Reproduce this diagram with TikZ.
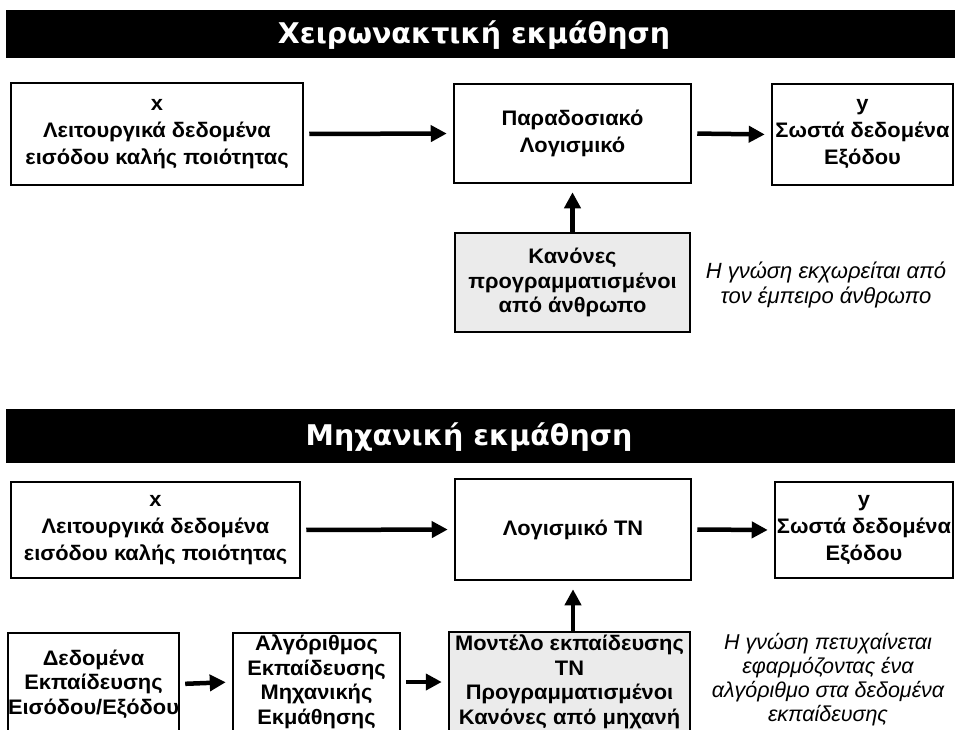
\documentclass[tikz,border=0pt]{standalone}
\usepackage{fontspec}
\setmainfont{Liberation Sans}
\newfontfamily\boxfont{Liberation Sans}[FakeStretch=1.04]
\newfontfamily\titlefont{DejaVu Sans}
\usetikzlibrary{arrows.meta}
\begin{document}
\begin{tikzpicture}[x=1pt,y=-1pt,
  box/.style={draw=black, line width=2.5pt, align=center, inner sep=0pt,
    font=\boxfont\bfseries\fontsize{21}{27}\selectfont},
  tallbox/.style={box, font=\boxfont\bfseries\fontsize{21}{24.5}\selectfont},
  greybox/.style={tallbox, fill=black!8},
  note/.style={align=center, font=\itshape\fontsize{22}{24.5}\selectfont},
  banner/.style={fill=black, draw=none},
  title/.style={text=white, font=\titlefont\bfseries\fontsize{28.5}{32}\selectfont},
  arr/.style={line width=4.5pt, -{Triangle[length=16pt,width=16pt]}, shorten <=5pt, shorten >=6pt},
  varr/.style={line width=4.5pt, -{Triangle[length=16pt,width=16pt]}, shorten >=8pt}]
\useasboundingbox (0,0) rectangle (955,729);
\clip (0,0) rectangle (955,729);
\fill[white] (0,0) rectangle (955,729);

% top section
\node[banner, minimum width=954pt, minimum height=48pt] (ban1) at (483,34) {};
\node[title] (t1) at (474,35) {Χειρωνακτική εκμάθηση};

\node[box, minimum width=292pt, minimum height=102pt] (A1) at (157,134)
  {x\\Λειτουργικά δεδομένα\\εισόδου καλής ποιότητας};
\node[box, minimum width=237pt, minimum height=99pt] (B1) at (572.5,133.5)
  {Παραδοσιακό\\Λογισμικό};
\node[box, minimum width=181pt, minimum height=101pt] (C1) at (862.5,134.5)
  {y\\Σωστά δεδομένα\\Εξόδου};
\node[greybox, minimum width=235pt, minimum height=99pt] (D1) at (572.5,282.5)
  {Κανόνες\\προγραμματισμένοι\\από άνθρωπο};
\node[note] (n1) at (826,285) {Η γνώση εκχωρείται από\\τον έμπειρο άνθρωπο};

\draw[arr] (A1.east) -- (B1.west);
\draw[arr] (B1.east) -- (C1.west);
\draw[varr] (D1.north) -- (B1.south);

% bottom section
\node[banner, minimum width=954pt, minimum height=54pt] (ban2) at (483,436) {};
\node[title] (t2) at (469,437) {Μηχανική εκμάθηση};

\node[box, minimum width=289pt, minimum height=96pt] (A2) at (155.5,530)
  {x\\Λειτουργικά δεδομένα\\εισόδου καλής ποιότητας};
\node[box, minimum width=236pt, minimum height=101pt] (B2) at (573,529.5)
  {\raisebox{4pt}{Λογισμικό ΤΝ}};
\node[box, minimum width=178pt, minimum height=96pt] (C2) at (864,530)
  {y\\Σωστά δεδομένα\\Εξόδου};
\node[tallbox, minimum width=167pt, minimum height=102pt] (E2) at (93.5,684)
  {Δεδομένα\\Εκπαίδευσης\\Εισόδου/Εξόδου};
\node[tallbox, minimum width=167pt, minimum height=98pt] (F2) at (316.5,682)
  {Αλγόριθμος\\Εκπαίδευσης\\Μηχανικής\\Εκμάθησης};
\node[greybox, minimum width=241pt, minimum height=100pt] (G2) at (569.5,682)
  {Μοντέλο εκπαίδευσης\\ΤΝ\\Προγραμματισμένοι\\Κανόνες από μηχανή};
\node[note, font=\itshape\fontsize{21.5}{24}\selectfont] (n2) at (828,680)
  {Η γνώση πετυχαίνεται\\εφαρμόζοντας ένα\\αλγόριθμο στα δεδομένα\\εκπαίδευσης};

\draw[arr] (A2.east) -- (B2.west);
\draw[arr] (B2.east) -- (C2.west);
\draw[arr] (E2.east) -- (F2.west);
\draw[arr] (F2.east) -- (G2.west);
\draw[varr] (G2.north -| B2.south) -- (B2.south);
\end{tikzpicture}
\end{document}
